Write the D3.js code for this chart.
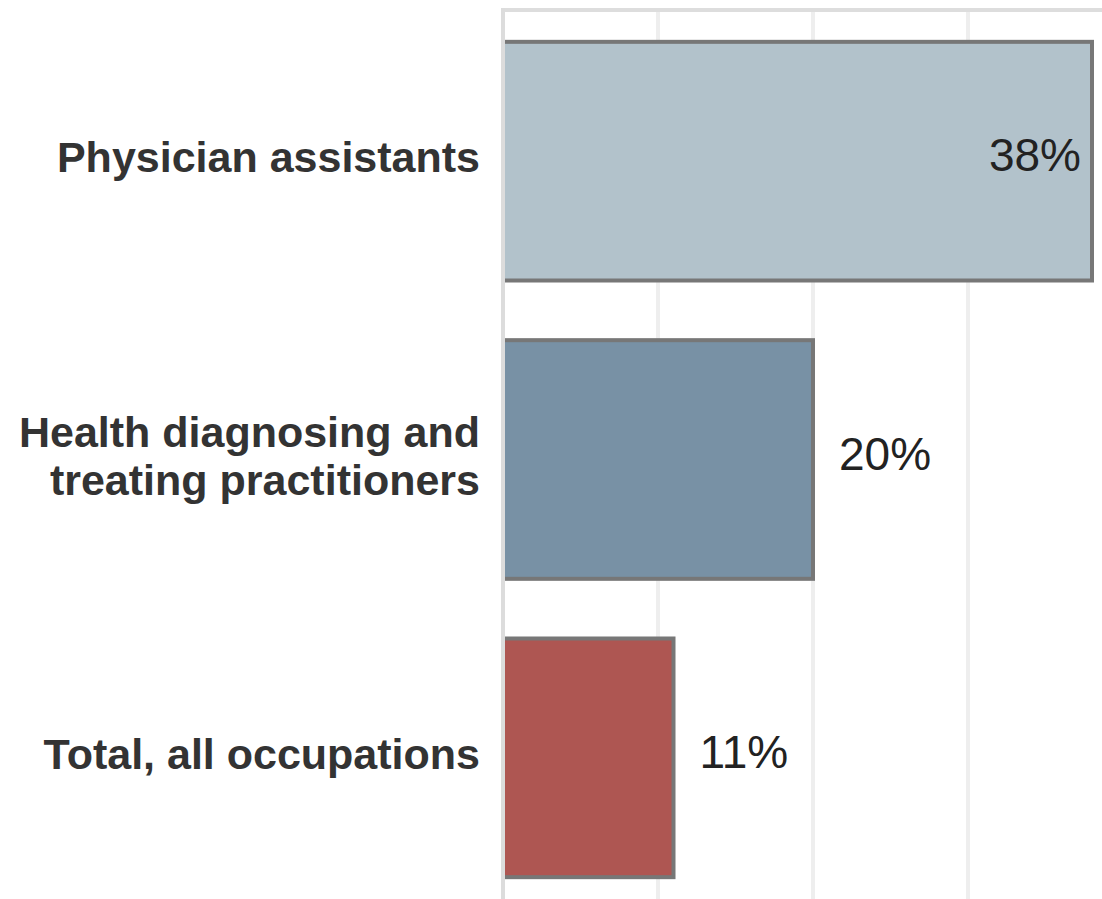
<!DOCTYPE html>
<html>
<head>
<meta charset="utf-8">
<script src="https://cdn.jsdelivr.net/npm/d3@7"></script>
<style>
  body { margin: 0; background: #fff; }
  text { font-family: "Liberation Sans", Arial, sans-serif; }
</style>
</head>
<body>
<div id="chart"></div>
<script>
// data
var categories = ["Physician assistants", "Health diagnosing and treating practitioners", "Total, all occupations"];
var labelLines = [["Physician assistants"], ["Health diagnosing and", "treating practitioners"], ["Total, all occupations"]];
var values = [38, 20, 11];
var barColors = ["#afbfc9", "#738da1", "#ab4f4b"];
var gridTicks = [10, 20, 30, 40];

var width = 1102, height = 899;

var svg = d3.select("#chart").append("svg")
  .attr("width", width)
  .attr("height", height);

var x = d3.scaleLinear().domain([0, 40]).range([503, 1123]);
var y = d3.scaleBand().domain(categories).range([12, 907]).paddingInner(0.2).paddingOuter(0.1);

//// gridlines
svg.selectAll("line.grid")
  .data(gridTicks)
  .enter().append("line")
  .attr("class", "grid")
  .attr("x1", function(d) { return x(d); })
  .attr("x2", function(d) { return x(d); })
  .attr("y1", 10).attr("y2", height)
  .attr("stroke", "#eeeeee")
  .attr("stroke-width", 4);

// top line
svg.append("line")
  .attr("x1", x(0) - 2).attr("x2", width)
  .attr("y1", 10).attr("y2", 10)
  .attr("stroke", "#dddddd")
  .attr("stroke-width", 4);

//// bars
svg.selectAll("rect.bar")
  .data(values)
  .enter().append("rect")
  .attr("class", "bar")
  .attr("x", x(0))
  .attr("y", function(d, i) { return y(categories[i]); })
  .attr("width", function(d) { return x(d) - x(0); })
  .attr("height", y.bandwidth())
  .attr("fill", function(d, i) { return barColors[i]; })
  .attr("fill-opacity", 0.96)
  .attr("stroke", "#777777")
  .attr("stroke-width", 4);

// vertical axis line
svg.append("line")
  .attr("x1", x(0)).attr("x2", x(0))
  .attr("y1", 8).attr("y2", height)
  .attr("stroke", "#dcdcdc")
  .attr("stroke-width", 4);

//// category labels
var lineH = 48;
svg.selectAll("text.cat")
  .data(labelLines)
  .enter().append("text")
  .attr("class", "cat")
  .attr("text-anchor", "end")
  .attr("font-size", 43)
  .attr("font-weight", "bold")
  .attr("fill", "#333")
  .each(function(lines, i) {
    var cy = y(categories[i]) + y.bandwidth() / 2 - 4;
    var t = d3.select(this);
    lines.forEach(function(l, k) {
      t.append("tspan")
        .attr("x", 480)
        .attr("y", cy + (k - (lines.length - 1) / 2) * lineH)
        .attr("dy", "0.35em")
        .text(l);
    });
  });

//// value labels
svg.selectAll("text.val")
  .data(values)
  .enter().append("text")
  .attr("class", "val")
  .attr("font-size", 46)
  .attr("fill", "#222")
  .attr("text-anchor", function(d) { return d > 30 ? "end" : "start"; })
  .attr("x", function(d) { return d > 30 ? x(d) - 11 : x(d) + 26; })
  .attr("y", function(d, i) { return y(categories[i]) + y.bandwidth() / 2 - 6; })
  .attr("dy", "0.35em")
  .text(function(d) { return d + "%"; });
</script>
</body>
</html>
